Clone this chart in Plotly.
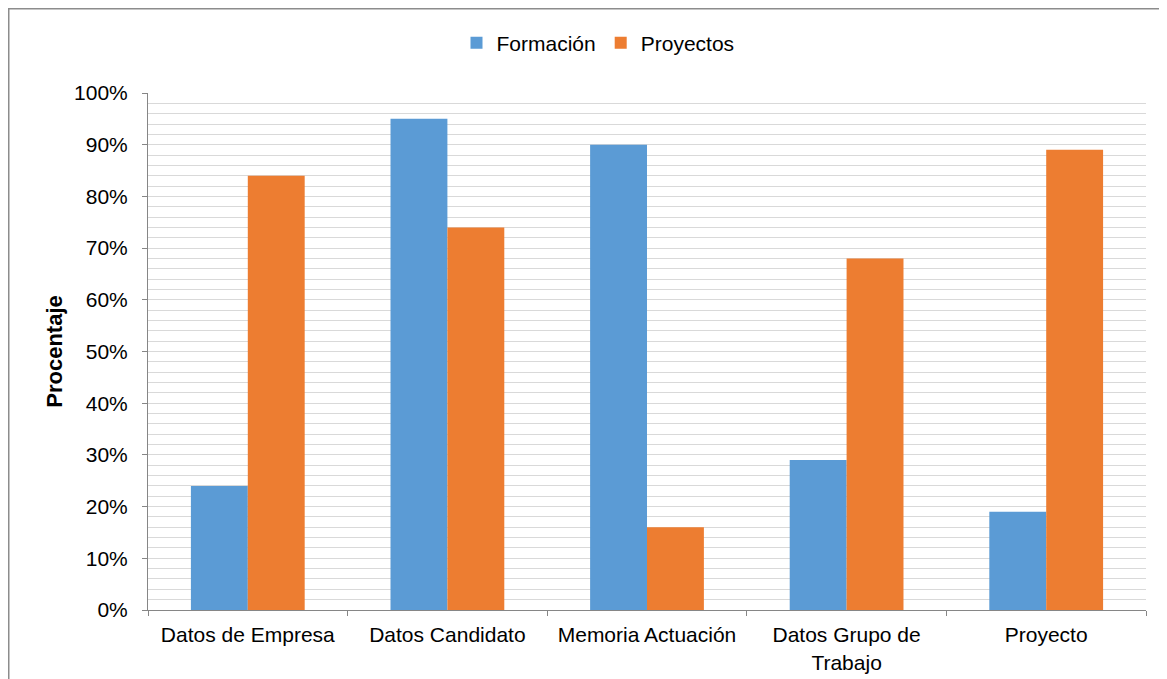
import plotly.graph_objects as go

categories = ["Datos de Empresa", "Datos Candidato", "Memoria Actuación", "Datos Grupo de<br>Trabajo", "Proyecto"]
formacion = [24, 95, 90, 29, 19]
proyectos = [84, 74, 16, 68, 89]

W, H = 1159, 671
L, R, T, B = 140, 21, 85, 69
pw, ph = W - L - R, H - T - B

def px(x):
    return (x - L) / pw

def py(y):
    return (H - B - y) / ph

fig = go.Figure()
fig.add_trace(go.Bar(name="Formación", x=categories, y=formacion, marker_color="#5B9BD5", marker_line_width=0))
fig.add_trace(go.Bar(name="Proyectos", x=categories, y=proyectos, marker_color="#ED7D31", marker_line_width=0))

font = "Liberation Sans, Arial, sans-serif"
fs = 21
fig.update_layout(
    width=W, height=H,
    margin=dict(l=L, r=R, t=T, b=B),
    paper_bgcolor="white", plot_bgcolor="white",
    barmode="group", bargap=0.43, bargroupgap=0,
    font=dict(family=font, size=fs, color="#000000"),
    legend=dict(orientation="h", x=px(590), xanchor="center", y=py(35), yanchor="middle",
                font=dict(size=21), itemwidth=30, traceorder="normal"),
    xaxis=dict(showline=True, linecolor="#868686", linewidth=1, ticks="outside", tickson="boundaries",
               ticklen=5, tickcolor="#868686", tickfont=dict(size=fs), showgrid=False,
               ticklabelstandoff=6, automargin=False),
    yaxis=dict(range=[0, 100], dtick=10, ticksuffix="%", showline=True, linecolor="#868686", linewidth=1,
               ticks="outside", ticklen=5, tickcolor="#868686", tickfont=dict(size=fs),
               showgrid=True, gridcolor="#D9D9D9", gridwidth=1, zeroline=False,
               ticklabelstandoff=10, automargin=False,
               minor=dict(dtick=2, showgrid=True, gridcolor="#D9D9D9", gridwidth=1, ticks=""),
               title=dict(text="<b>Procentaje</b>", font=dict(size=22), standoff=5)),
)
fig.add_shape(type="line", xref="paper", yref="paper", x0=px(0.75), x1=px(0.75), y0=py(0), y1=py(H),
              line=dict(color="#8C8C8C", width=1.5))
fig.add_shape(type="line", xref="paper", yref="paper", x0=px(0), x1=px(W), y0=py(0.75), y1=py(0.75),
              line=dict(color="#8C8C8C", width=1.5))
fig.write_html("out.html")
